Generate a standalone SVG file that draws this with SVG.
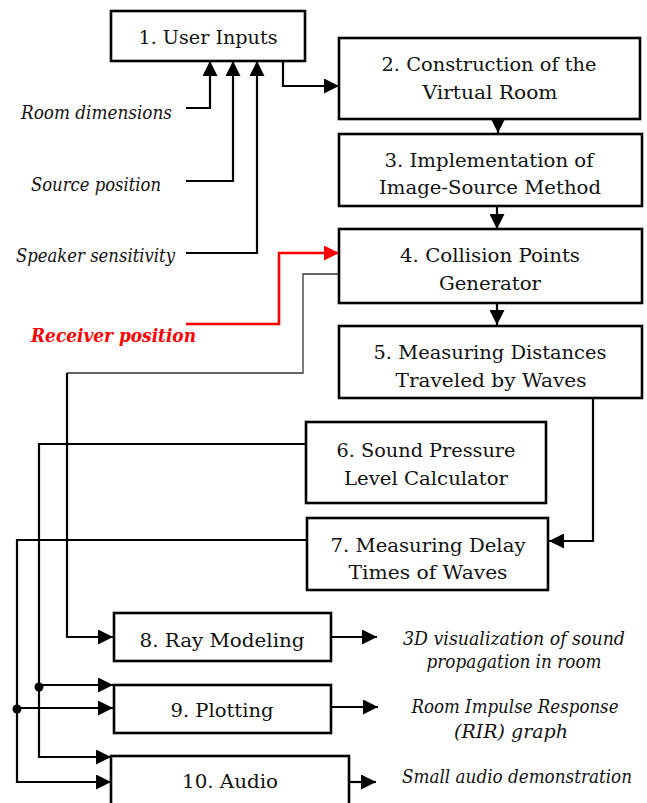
<svg xmlns="http://www.w3.org/2000/svg" width="647" height="803" viewBox="0 0 647 803">
<style>
.box{fill:#fff;stroke:#000;stroke-width:2.6}
.t{font-family:"DejaVu Serif","Liberation Serif",serif;font-size:19px;fill:#111;text-anchor:middle}
.i{font-family:"DejaVu Serif","Liberation Serif",serif;font-size:18px;font-style:italic;fill:#111}
.r{font-family:"DejaVu Serif","Liberation Serif",serif;font-size:18px;font-style:italic;font-weight:bold;fill:#ff0000}
.c{fill:none;stroke:#000;stroke-width:2.2}
.thin{fill:none;stroke:#333;stroke-width:1.3}
</style>
<defs>
<marker id="ah" viewBox="0 0 15 15" refX="15" refY="7.5" markerWidth="15" markerHeight="15" markerUnits="userSpaceOnUse" orient="auto"><path d="M0,0L15,7.5L0,15z" fill="#000"/></marker>
<marker id="ahr" viewBox="0 0 15 15" refX="15" refY="7.5" markerWidth="15" markerHeight="15" markerUnits="userSpaceOnUse" orient="auto"><path d="M0,0L15,7.5L0,15z" fill="#ff0000"/></marker>
</defs>
<g id="connectors">
<path class="c" d="M186,108H210V61" marker-end="url(#ah)"/>
<path class="c" d="M186,181H233V61" marker-end="url(#ah)"/>
<path class="c" d="M186,253H257V61" marker-end="url(#ah)"/>
<path class="c" d="M283,61V86H339" marker-end="url(#ah)"/>
<path class="c" d="M498,110V133" marker-end="url(#ah)"/>
<path class="c" d="M497,206V229" marker-end="url(#ah)"/>
<path class="c" d="M497,303V325" marker-end="url(#ah)"/>
<path fill="none" stroke="#ff0000" stroke-width="2.6" d="M186,324H279V253H339" marker-end="url(#ahr)"/>
<path class="thin" d="M339,274H303V373H67"/>
<path class="c" d="M67,373V637H113" marker-end="url(#ah)"/>
<path class="c" d="M593,398V541H549" marker-end="url(#ah)"/>
<path class="c" d="M306,444H39V757H111" marker-end="url(#ah)"/>
<path class="c" d="M39,685H113" marker-end="url(#ah)"/>
<path class="c" d="M307,540H17V782H111" marker-end="url(#ah)"/>
<path class="c" d="M17,708H113" marker-end="url(#ah)"/>
<circle cx="39" cy="687" r="4.5" fill="#000"/>
<circle cx="17" cy="709" r="4.5" fill="#000"/>
<path class="c" d="M331,637H377" marker-end="url(#ah)"/>
<path class="c" d="M331,707H378" marker-end="url(#ah)"/>
<path class="c" d="M349,782H376" marker-end="url(#ah)"/>
</g>
<g id="inputs">
<text class="i" x="21" y="119" textLength="151" lengthAdjust="spacingAndGlyphs">Room dimensions</text>
<text class="i" x="31" y="191" textLength="130" lengthAdjust="spacingAndGlyphs">Source position</text>
<text class="i" x="16" y="262" textLength="159" lengthAdjust="spacingAndGlyphs">Speaker sensitivity</text>
<text class="r" x="31" y="342" textLength="165" lengthAdjust="spacingAndGlyphs">Receiver position</text>
</g>
<g id="n1"><rect class="box" x="111" y="11" width="194" height="50"/><text class="t" x="208" y="44" textLength="139" lengthAdjust="spacingAndGlyphs">1. User Inputs</text></g>
<g id="n2"><rect class="box" x="339" y="38" width="301" height="81"/><text class="t" x="489" y="71" textLength="215" lengthAdjust="spacingAndGlyphs">2. Construction of the</text><text class="t" x="490" y="99" textLength="135" lengthAdjust="spacingAndGlyphs">Virtual Room</text></g>
<g id="n3"><rect class="box" x="339" y="134" width="303" height="72"/><text class="t" x="489" y="167" textLength="209" lengthAdjust="spacingAndGlyphs">3. Implementation of</text><text class="t" x="490" y="194" textLength="222" lengthAdjust="spacingAndGlyphs">Image-Source Method</text></g>
<g id="n4"><rect class="box" x="339" y="229" width="303" height="74"/><text class="t" x="490" y="262" textLength="180" lengthAdjust="spacingAndGlyphs">4. Collision Points</text><text class="t" x="490" y="290" textLength="102" lengthAdjust="spacingAndGlyphs">Generator</text></g>
<g id="n5"><rect class="box" x="339" y="326" width="303" height="72"/><text class="t" x="490" y="359" textLength="233" lengthAdjust="spacingAndGlyphs">5. Measuring Distances</text><text class="t" x="491" y="387" textLength="191" lengthAdjust="spacingAndGlyphs">Traveled by Waves</text></g>
<g id="n6"><rect class="box" x="306" y="422" width="240" height="81"/><text class="t" x="426" y="457" textLength="179" lengthAdjust="spacingAndGlyphs">6. Sound Pressure</text><text class="t" x="426" y="485" textLength="164" lengthAdjust="spacingAndGlyphs">Level Calculator</text></g>
<g id="n7"><rect class="box" x="307" y="518" width="241" height="72"/><text class="t" x="428" y="552" textLength="195" lengthAdjust="spacingAndGlyphs">7. Measuring Delay</text><text class="t" x="428" y="579" textLength="159" lengthAdjust="spacingAndGlyphs">Times of Waves</text></g>
<g id="n8"><rect class="box" x="114" y="613" width="217" height="48"/><text class="t" x="222" y="647" textLength="165" lengthAdjust="spacingAndGlyphs">8. Ray Modeling</text></g>
<g id="n9"><rect class="box" x="114" y="685" width="217" height="48"/><text class="t" x="222" y="717" textLength="103" lengthAdjust="spacingAndGlyphs">9. Plotting</text></g>
<g id="n10"><rect class="box" x="111" y="756" width="238" height="70"/><text class="t" x="230" y="788" textLength="96" lengthAdjust="spacingAndGlyphs">10. Audio</text></g>
<g id="outputs">
<text class="i" x="514" y="645" text-anchor="middle" textLength="222" lengthAdjust="spacingAndGlyphs">3D visualization of sound</text>
<text class="i" x="514" y="668" text-anchor="middle" textLength="175" lengthAdjust="spacingAndGlyphs">propagation in room</text>
<text class="i" x="515" y="713" text-anchor="middle" textLength="207" lengthAdjust="spacingAndGlyphs">Room Impulse Response</text>
<text class="i" x="511" y="738" text-anchor="middle" textLength="114" lengthAdjust="spacingAndGlyphs">(RIR) graph</text>
<text class="i" x="402" y="783" textLength="230" lengthAdjust="spacingAndGlyphs">Small audio demonstration</text>
</g>
</svg>
